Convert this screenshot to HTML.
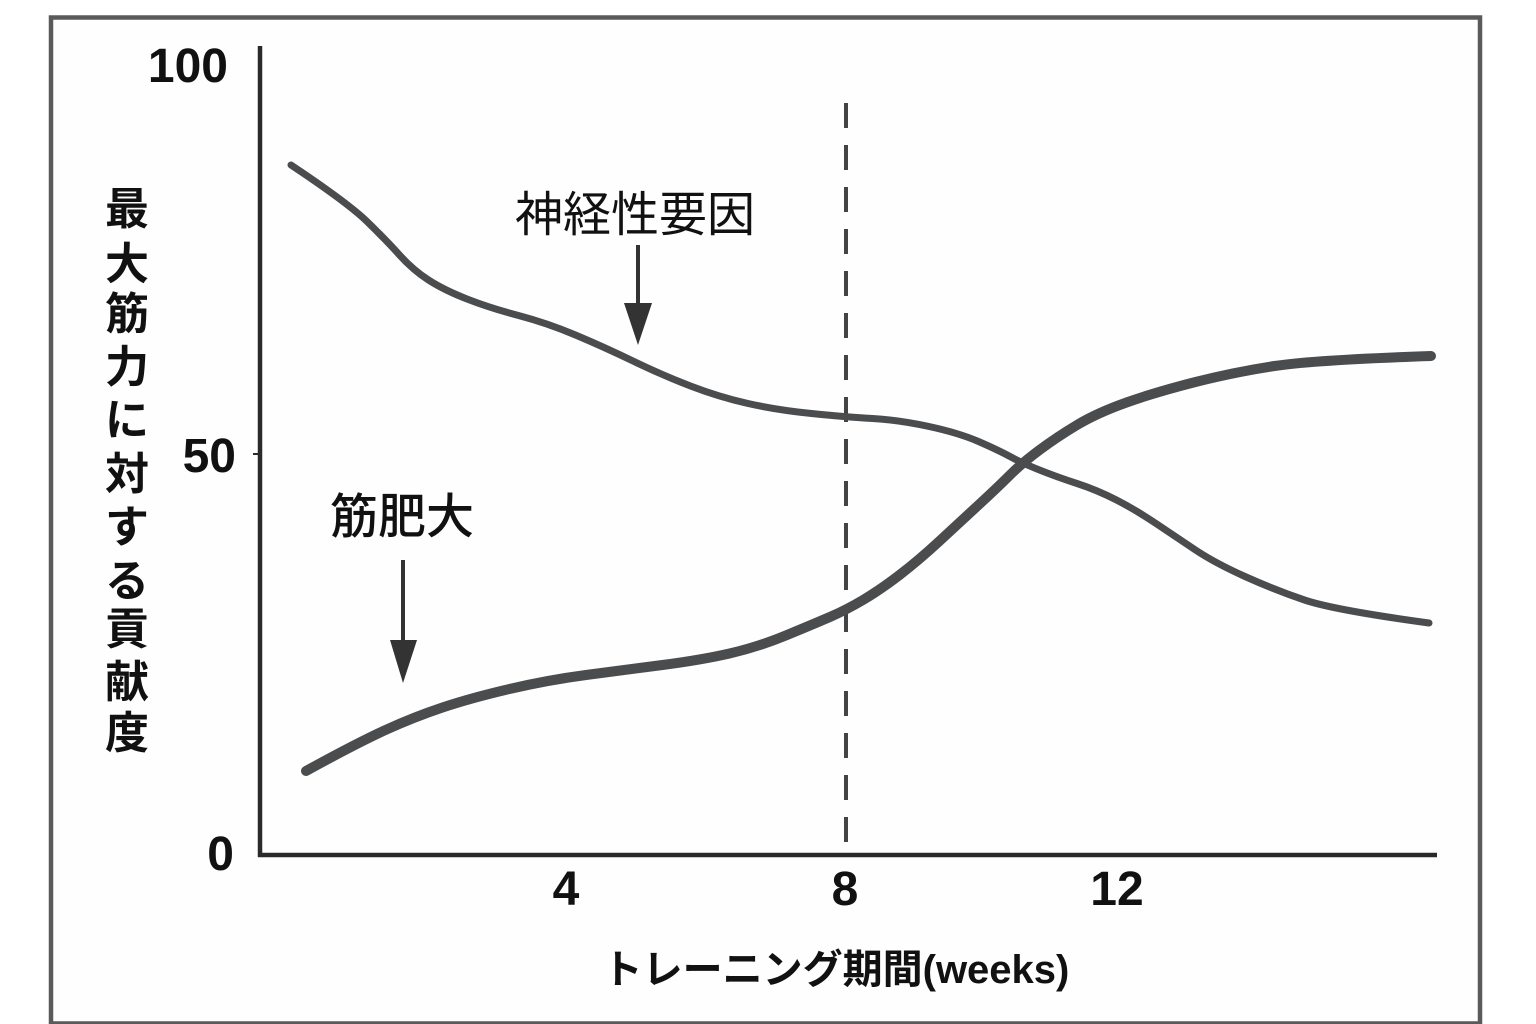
<!DOCTYPE html>
<html>
<head>
<meta charset="utf-8">
<style>
  html, body { margin:0; padding:0; background:#ffffff; }
  body { width:1536px; height:1024px; overflow:hidden; }
  svg { display:block; }
  .num { font-family:"Liberation Sans", "DejaVu Sans", sans-serif; font-weight:bold; font-size:48px; fill:#111; }
  .ylab { font-family:"Liberation Sans", "Noto Sans CJK JP", sans-serif; font-weight:bold; font-size:44px; fill:#111; }
  .ann { font-family:"Liberation Sans", "Noto Sans CJK JP", sans-serif; font-size:48px; fill:#111; }
  .xlab { font-family:"Liberation Sans", "Noto Sans CJK JP", sans-serif; font-weight:bold; font-size:40px; fill:#111; }
</style>
</head>
<body>
<svg width="1536" height="1024" viewBox="0 0 1536 1024" xmlns="http://www.w3.org/2000/svg">
  <rect x="0" y="0" width="1536" height="1024" fill="#ffffff"/>
  <!-- outer frame -->
  <rect x="51" y="17.5" width="1429" height="1006" fill="#fefefe" stroke="#5a5a5a" stroke-width="4.5"/>

  <!-- dashed line at week 8 -->
  <line x1="846" y1="103" x2="846" y2="853" stroke="#444" stroke-width="4" stroke-dasharray="25 17"/>

  <!-- axes -->
  <line x1="260" y1="46" x2="260" y2="857" stroke="#2a2a2a" stroke-width="4.5"/>
  <line x1="258" y1="855" x2="1437" y2="855" stroke="#2a2a2a" stroke-width="4.5"/>
  <line x1="253" y1="454" x2="260" y2="454" stroke="#2a2a2a" stroke-width="2"/>

  <!-- y tick labels -->
  <text class="num" x="228" y="82" text-anchor="end">100</text>
  <text class="num" x="236" y="472" text-anchor="end">50</text>
  <text class="num" x="234" y="870" text-anchor="end">0</text>

  <!-- x tick labels -->
  <text class="num" x="566" y="905" text-anchor="middle">4</text>
  <text class="num" x="845" y="905" text-anchor="middle">8</text>
  <text class="num" x="1117" y="905" text-anchor="middle">12</text>

  <!-- y axis label (vertical) -->
  <g class="ylab" text-anchor="middle">
    <text x="127" y="224">最</text>
    <text x="127" y="279">大</text>
    <text x="127" y="329">筋</text>
    <text x="127" y="382">力</text>
    <text x="127" y="435">に</text>
    <text x="127" y="489">対</text>
    <text x="127" y="542">す</text>
    <text x="127" y="596">る</text>
    <text x="127" y="644">貢</text>
    <text x="127" y="697">献</text>
    <text x="127" y="748">度</text>
  </g>

  <!-- x axis label -->
  <text class="xlab" x="836" y="983" text-anchor="middle">トレーニング期間(weeks)</text>

  <!-- annotations -->
  <text class="ann" x="515" y="231">神経性要因</text>
  <text class="ann" x="330" y="533" style="font-weight:500">筋肥大</text>

  <!-- arrows -->
  <line x1="638" y1="245" x2="638" y2="306" stroke="#333" stroke-width="4"/>
  <polygon points="624,303 652,303 638,345" fill="#333"/>
  <line x1="403" y1="560" x2="403" y2="643" stroke="#333" stroke-width="4"/>
  <polygon points="390,640 417,640 403,683" fill="#333"/>

  <!-- neural factor curve -->
  <path d="M291,165 Q348,203 367,221.5 Q386,240 399.5,255 Q413,270 428.5,280 Q444,290 467,299 Q490,308 518.5,315.5 Q547,323 575.5,335 Q604,347 633,361 Q662,375 690.5,386 Q719,397 748,403.5 Q777,410 811.5,413.5 Q846,417 872.5,418.5 Q899,420 929,426.5 Q959,433 978.5,441.5 Q998,450 1010,456.5 Q1022,463 1039.5,470 Q1057,477 1077,483.5 Q1097,490 1116.5,500 Q1136,510 1156,523.5 Q1176,537 1195.5,550 Q1215,563 1245,576.5 Q1275,590 1304.5,600 Q1334,610 1429,623"
        fill="none" stroke="#4b4c4e" stroke-width="7" stroke-linecap="round" stroke-linejoin="round"/>

  <!-- hypertrophy curve -->
  <path d="M306,771 Q357,743 385.5,730 Q414,717 442.5,707.5 Q471,698 509.5,689 Q548,680 586,675 Q624,670 662.5,665 Q701,660 729.5,653.5 Q758,647 787,635 Q816,623 831,616.5 Q846,610 863,600 Q880,590 899.5,575 Q919,560 939,541.5 Q959,523 978.5,505 Q998,487 1010,475 Q1022,463 1039.5,450 Q1057,437 1077,425 Q1097,413 1126.5,402.5 Q1156,392 1195.5,382 Q1235,372 1274.5,366 Q1314,360 1431,356"
        fill="none" stroke="#4b4c4e" stroke-width="10" stroke-linecap="round" stroke-linejoin="round"/>
</svg>
</body>
</html>
